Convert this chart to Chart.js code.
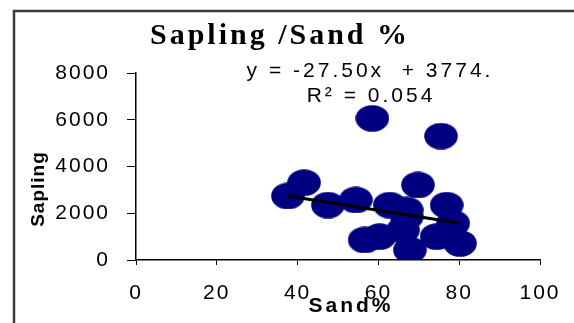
<!DOCTYPE html>
<html>
<head>
<meta charset="utf-8">
<script src="https://cdn.jsdelivr.net/npm/chart.js@4/dist/chart.umd.min.js"></script>
<style>
  html, body { margin: 0; padding: 0; background: #fff; }
  #wrap { width: 574px; height: 323px; }
</style>
</head>
<body>
<div id="wrap"><canvas id="myChart" width="574" height="323"></canvas></div>
<script>
// values
var sandPct = [37.6, 41.6, 47.5, 54.4, 56.6, 58.5, 60.3, 62.8, 66.1, 67.0, 67.0, 67.8, 69.8, 74.4, 75.5, 76.9, 78.5, 80.2];
var sapling = [2740, 3310, 2350, 2570, 860, 6060, 1000, 2350, 1280, 2140, 1850, 430, 3210, 1000, 5300, 2350, 1570, 710];
var xTicks = [0, 20, 40, 60, 80, 100];
var yTicks = [0, 2000, 4000, 6000, 8000];
var slope = -27.50;
var intercept = 3774;
var eqText = 'y = -27.50x  + 3774.';
var r2Text = 'R\u00b2 = 0.054';
var titleText = 'Sapling /Sand %';
var xTitle = 'Sand%';
var yTitle = 'Sapling';

var points = sandPct.map(function (x, i) { return { x: x, y: sapling[i] }; });
var xMin = Math.min.apply(null, sandPct);
var xMax = Math.max.apply(null, sandPct);
var trend = [xMin, xMax].map(function (x) { return { x: x, y: slope * x + intercept }; });

// oval marker like the original
var dot = document.createElement('canvas');
dot.width = 34; dot.height = 27;
var dctx = dot.getContext('2d');
dctx.fillStyle = '#000080';
dctx.beginPath();
dctx.ellipse(17, 13.5, 16.8, 13.3, 0, 0, Math.PI * 2);
dctx.fill();

var overlay = {
    id: 'overlay',
    beforeDraw: function (chart) {
        chart.ctx.letterSpacing = '2px';
    },
    afterDraw: function (chart) {
        var ctx = chart.ctx;
        ctx.save();
        // frame
        ctx.strokeStyle = '#3a3a3a';
        ctx.lineWidth = 2.5;
        ctx.strokeRect(14, 11, 700, 500);

        ctx.fillStyle = '#000';
        ctx.textBaseline = 'alphabetic';
        ctx.textAlign = 'center';

        ctx.letterSpacing = '3px';
        ctx.font = 'bold 30px "Liberation Serif"';
        ctx.fillText(titleText, 280, 44);

        ctx.letterSpacing = '3px';
        ctx.font = '21px "Liberation Sans"';
        ctx.fillText(eqText, 370, 77);
        ctx.fillText(r2Text, 371, 102);

        ctx.letterSpacing = '3px';
        ctx.font = 'bold 21px "Liberation Sans"';
        ctx.fillText(xTitle, 351, 312);

        ctx.translate(44, 189);
        ctx.rotate(-Math.PI / 2);
        ctx.letterSpacing = '1px';
        ctx.font = 'bold 19px "Liberation Sans"';
        ctx.fillText(yTitle, 0, 0);
        ctx.restore();
        ctx.letterSpacing = '0px';
    }
};

var chart = new Chart(document.getElementById('myChart').getContext('2d'), {
    type: 'scatter',
    data: {
        datasets: [{
            data: points,
            pointStyle: dot,
            backgroundColor: '#000080',
            borderColor: '#000080',
            order: 2
        }, {
            type: 'line',
            data: trend,
            showLine: true,
            borderColor: '#000',
            borderWidth: 3,
            pointRadius: 0,
            fill: false,
            order: 1
        }]
    },
    options: {
        responsive: false,
        animation: false,
        events: [],
        layout: { padding: { left: 0, right: 34, top: 73, bottom: 0 } },
        plugins: { legend: { display: false }, tooltip: { enabled: false }, title: { display: false } },
        scales: {
            x: {
                type: 'linear',
                min: xTicks[0],
                max: xTicks[xTicks.length - 1],
                afterBuildTicks: function (s) { s.ticks = xTicks.map(function (v) { return { value: v }; }); },
                afterFit: function (s) { s.height = 63; },
                grid: { drawOnChartArea: false, drawTicks: true, tickLength: 5, color: '#000' },
                border: { display: true, color: '#000', width: 1.5 },
                ticks: {
                    color: '#000', padding: 16, maxRotation: 0,
                    font: { family: 'Liberation Sans', size: 21 },
                    callback: function (v) { return String(v); }
                }
            },
            y: {
                type: 'linear',
                min: yTicks[0],
                max: yTicks[yTicks.length - 1],
                afterBuildTicks: function (s) { s.ticks = yTicks.map(function (v) { return { value: v }; }); },
                afterFit: function (s) { s.width = 136; },
                grid: { drawOnChartArea: false, drawTicks: true, tickLength: 9, color: '#000' },
                border: { display: true, color: '#000', width: 1.5 },
                ticks: {
                    color: '#000', padding: 17,
                    font: { family: 'Liberation Sans', size: 21 },
                    callback: function (v) { return String(v); }
                }
            }
        }
    },
    plugins: [overlay]
});
</script>
</body>
</html>
